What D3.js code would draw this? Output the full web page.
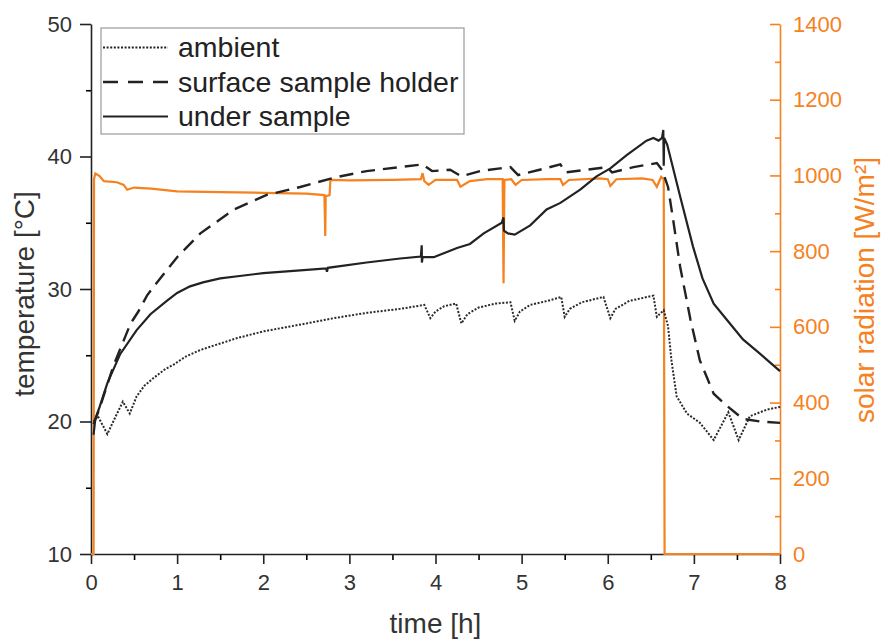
<!DOCTYPE html>
<html>
<head>
<meta charset="utf-8">
<script src="https://cdn.jsdelivr.net/npm/d3@7"></script>
<style>
    body { margin: 0; background: #fff; }
    text { font-family: "Liberation Sans", Arial, sans-serif; }
</style>
</head>
<body>
<div id="chart"></div>
<script>
// time [h] / temperature [°C] pairs
const ambient = [
    [0.03, 20.0], [0.08, 20.4], [0.19, 19.05], [0.28, 20.3], [0.37, 21.5], [0.45, 20.6],
    [0.53, 21.9], [0.62, 22.7], [0.73, 23.3], [0.85, 23.9], [0.96, 24.3], [1.1, 24.9],
    [1.27, 25.4], [1.46, 25.8], [1.7, 26.3], [2.0, 26.8], [2.25, 27.1], [2.5, 27.4],
    [2.82, 27.8], [3.2, 28.2], [3.59, 28.5], [3.87, 28.8], [3.94, 27.8], [4.0, 28.3],
    [4.1, 28.7], [4.24, 28.9], [4.30, 27.4], [4.37, 28.1], [4.5, 28.6], [4.7, 28.9],
    [4.87, 29.0], [4.92, 27.6], [4.98, 28.3], [5.1, 28.8], [5.3, 29.1], [5.46, 29.4],
    [5.5, 27.9], [5.56, 28.5], [5.7, 29.0], [5.95, 29.4], [6.03, 27.8], [6.09, 28.5],
    [6.25, 29.1], [6.53, 29.5], [6.57, 27.9], [6.65, 28.4], [6.70, 27.2], [6.74, 24.6],
    [6.80, 21.9], [6.92, 20.6], [7.07, 19.9], [7.23, 18.6], [7.40, 20.7], [7.52, 18.6],
    [7.65, 20.4], [7.85, 20.9], [8.0, 21.1]
];

const surfaceHolder = [
    [0.03, 19.8], [0.1, 21.0], [0.26, 24.2], [0.46, 27.4], [0.55, 28.3], [0.65, 29.5],
    [0.73, 30.2], [1.0, 32.4], [1.27, 34.2], [1.66, 36.0], [2.04, 37.1], [2.43, 37.7],
    [2.82, 38.4], [3.2, 38.9], [3.59, 39.2], [3.85, 39.4], [3.96, 38.9], [4.17, 39.0],
    [4.30, 38.5], [4.52, 38.9], [4.75, 39.1], [4.87, 39.2], [4.96, 38.6], [5.21, 39.0],
    [5.45, 39.4], [5.51, 38.8], [5.76, 39.0], [5.99, 39.2], [6.05, 38.8], [6.3, 39.2],
    [6.57, 39.5], [6.63, 39.0], [6.70, 37.7], [6.76, 35.2], [6.84, 31.7], [6.96, 27.7],
    [7.07, 24.6], [7.23, 22.1], [7.38, 21.2], [7.57, 20.2], [7.77, 20.0], [8.0, 19.9]
];

const underSample = [
    [0.03, 19.0], [0.05, 20.2], [0.1, 21.1], [0.19, 22.9], [0.34, 25.1], [0.53, 26.9],
    [0.69, 28.1], [0.88, 29.1], [1.0, 29.7], [1.15, 30.2], [1.3, 30.5], [1.5, 30.8],
    [1.75, 31.0], [2.0, 31.2], [2.43, 31.4], [2.73, 31.55], [2.74, 31.3], [2.75, 31.6],
    [3.2, 32.0], [3.59, 32.3], [3.83, 32.45], [3.84, 33.3], [3.842, 32.0], [3.85, 32.4],
    [3.98, 32.4], [4.25, 33.1], [4.4, 33.4], [4.56, 34.2], [4.77, 35.0], [4.79, 35.4],
    [4.795, 34.4], [4.84, 34.2], [4.92, 34.1], [5.1, 34.8], [5.29, 36.0], [5.45, 36.5],
    [5.68, 37.5], [5.87, 38.5], [6.03, 39.1], [6.22, 40.1], [6.45, 41.2], [6.53, 41.4],
    [6.59, 41.2], [6.63, 41.4], [6.645, 42.0], [6.65, 39.3], [6.655, 41.4], [6.69, 40.9],
    [6.84, 37.0], [6.99, 33.2], [7.1, 30.8], [7.23, 28.9], [7.38, 27.7], [7.57, 26.2],
    [7.77, 25.1], [8.0, 23.8]
];

// time [h] / solar radiation [W/m²]
const solar = [
    [0, 0], [0.03, 0], [0.035, 990], [0.05, 1005], [0.1, 998], [0.15, 985], [0.3, 982],
    [0.38, 975], [0.42, 962], [0.5, 968], [0.7, 965], [1.0, 958], [1.5, 956], [2.0, 954],
    [2.5, 952], [2.71, 948], [2.72, 840], [2.725, 945], [2.77, 948], [2.78, 988], [3.0, 987],
    [3.5, 988], [3.83, 990], [3.85, 1006], [3.87, 985], [3.92, 975], [4.0, 988], [4.25, 988],
    [4.29, 970], [4.4, 985], [4.6, 990], [4.78, 990], [4.79, 715], [4.8, 988], [4.88, 990],
    [4.93, 975], [5.0, 988], [5.3, 990], [5.45, 990], [5.48, 975], [5.55, 988], [5.9, 992],
    [6.0, 990], [6.03, 972], [6.1, 990], [6.4, 992], [6.52, 988], [6.57, 970], [6.62, 996],
    [6.65, 990], [6.66, 0], [8.0, 0]
];

const timeTicks = [0, 1, 2, 3, 4, 5, 6, 7, 8];
const tempTicks = [10, 20, 30, 40, 50];
const solarTicks = [0, 200, 400, 600, 800, 1000, 1200, 1400];

const legendItems = [
    {label: "ambient", dash: "2,1.6", width: 2},
    {label: "surface sample holder", dash: "15,10", width: 2.4},
    {label: "under sample", dash: null, width: 2.2}
];

const orange = "#f5821f";
const ink = "#222";

let margin = {top: 24, right: 103, bottom: 86, left: 91};
let width = 883 - margin.left - margin.right,
    height = 640 - margin.top - margin.bottom;

let svg = d3.select("#chart").append("svg")
    .attr("width", 883)
    .attr("height", 640)
    .append("g")
    .attr("transform", "translate(" + margin.left + "," + margin.top + ")");

let x = d3.scaleLinear().domain([0, 8]).range([0, width]);
let y = d3.scaleLinear().domain([10, 50]).range([height, 0]);
let y2 = d3.scaleLinear().domain([0, 1400]).range([height, 0]);

// minor ticks first
svg.append("g")
    .attr("transform", "translate(0," + height + ")")
    .call(d3.axisBottom(x).tickValues(d3.range(0.5, 8, 1)).tickSize(6).tickSizeOuter(0).tickFormat(""))
    .call(g => g.select(".domain").remove());
svg.append("g")
    .call(d3.axisLeft(y).tickValues([15, 25, 35, 45]).tickSize(5).tickSizeOuter(0).tickFormat(""))
    .call(g => g.select(".domain").remove());
svg.append("g")
    .attr("transform", "translate(" + width + ",0)")
    .call(d3.axisRight(y2).tickValues(d3.range(100, 1400, 200)).tickSize(-5).tickSizeOuter(0).tickFormat(""))
    .call(g => g.select(".domain").remove())
    .selectAll("line").attr("stroke", orange);

let xAxis = svg.append("g")
    .attr("class", "axis axis-x")
    .attr("transform", "translate(0," + height + ")")
    .call(d3.axisBottom(x).tickValues(timeTicks).tickSize(10).tickSizeOuter(0).tickPadding(10));

let yAxis = svg.append("g")
    .attr("class", "axis axis-y")
    .call(d3.axisLeft(y).tickValues(tempTicks).tickSize(11).tickSizeOuter(0).tickPadding(8));

let y2Axis = svg.append("g")
    .attr("class", "axis axis-y2")
    .attr("transform", "translate(" + width + ",0)")
    .call(d3.axisRight(y2).tickValues(solarTicks).tickSize(-10).tickSizeOuter(0).tickPadding(13)
        .tickFormat(d3.format("d")));

svg.selectAll(".axis text").attr("font-size", "22px").attr("font-family", "Liberation Sans, Arial, sans-serif");
xAxis.selectAll("text").attr("fill", "#333");
yAxis.selectAll("text").attr("fill", "#333");
xAxis.selectAll("path, line").attr("stroke", ink).attr("stroke-width", 1.6);
yAxis.selectAll("path, line").attr("stroke", ink).attr("stroke-width", 1.6);
y2Axis.selectAll("path, line").attr("stroke", orange).attr("stroke-width", 1.6);
y2Axis.selectAll("text").attr("fill", orange);
svg.selectAll("g.tick line").attr("stroke-width", 1.6);

// series
let line = d3.line().x(d => x(d[0])).y(d => y(d[1]));
let solarLine = d3.line().x(d => x(d[0])).y(d => y2(d[1]));

svg.append("path")
    .datum(solar)
    .attr("d", solarLine)
    .attr("fill", "none")
    .attr("stroke", orange)
    .attr("stroke-width", 2.2);

svg.append("path")
    .datum(ambient)
    .attr("d", line)
    .attr("fill", "none")
    .attr("stroke", "#2a2a2a")
    .attr("stroke-width", 2)
    .attr("stroke-dasharray", "2,1.6");

svg.append("path")
    .datum(surfaceHolder)
    .attr("d", line)
    .attr("fill", "none")
    .attr("stroke", ink)
    .attr("stroke-width", 2.4)
    .attr("stroke-dasharray", "14,8");

svg.append("path")
    .datum(underSample)
    .attr("d", line)
    .attr("fill", "none")
    .attr("stroke", ink)
    .attr("stroke-width", 2.2);

// legend
let legend = svg.append("g").attr("transform", "translate(" + (101 - margin.left) + "," + (28 - margin.top) + ")");
legend.append("rect")
    .attr("width", 363)
    .attr("height", 106)
    .attr("fill", "#fff")
    .attr("stroke", "#999")
    .attr("stroke-width", 1.2);

legendItems.forEach((item, i) => {
    let cy = 19.5 + i * 34.5;
    legend.append("line")
        .attr("x1", 2).attr("x2", 67)
        .attr("y1", cy).attr("y2", cy)
        .attr("stroke", ink)
        .attr("stroke-width", item.width)
        .attr("stroke-dasharray", item.dash);
    legend.append("text")
        .attr("x", 77)
        .attr("y", cy + 9.5)
        .attr("font-size", "28.5px")
        .attr("fill", ink)
        .text(item.label);
});

// axis titles
svg.append("text")
    .attr("x", width / 2)
    .attr("y", 633 - margin.top)
    .attr("text-anchor", "middle")
    .attr("font-size", "28px")
    .attr("fill", "#333")
    .text("time [h]");

svg.append("text")
    .attr("transform", "translate(" + (34 - margin.left) + "," + (294 - margin.top) + ") rotate(-90)")
    .attr("text-anchor", "middle")
    .attr("font-size", "28px")
    .attr("fill", "#333")
    .text("temperature [°C]");

svg.append("text")
    .attr("transform", "translate(" + (874 - margin.left) + "," + (290 - margin.top) + ") rotate(-90)")
    .attr("text-anchor", "middle")
    .attr("font-size", "28px")
    .attr("fill", orange)
    .text("solar radiation [W/m²]");
</script>
</body>
</html>
